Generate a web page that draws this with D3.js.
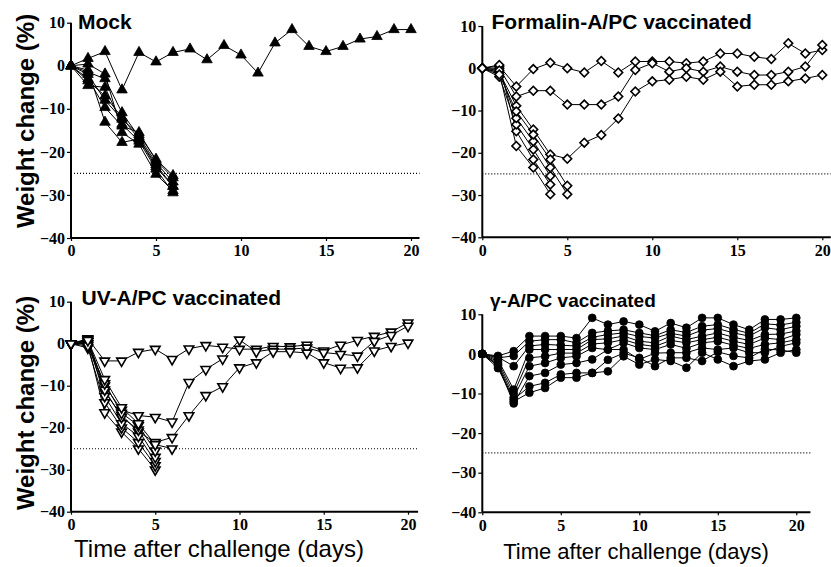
<!DOCTYPE html>
<html><head><meta charset="utf-8">
<script src="https://cdn.jsdelivr.net/npm/d3@7"></script>
<style>body{margin:0;background:#fff}svg{display:block}</style>
</head><body><svg id="c" width="831" height="567"></svg>
<script>
// ---------- DATA ----------
const days = [0,1,2,3,4,5,6,7,8,9,10,11,12,13,14,15,16,17,18,19,20];
const yTicks = [10,0,-10,-20,-30,-40];
const xTicks = [0,5,10,15,20];
const threshold = -25;
const titles = ["Mock","Formalin-A/PC vaccinated","UV-A/PC vaccinated","\u03b3-A/PC vaccinated"];
const yTitle = "Weight change (%)";
const xTitle = "Time after challenge (days)";

// Mock (filled up-triangles)
const mock = [
  [0,1.7,3.3,-5.6,3.1,0.9,3.1,3.9,1.4,4.7,2.5,-1.7,5.3,8.4,4.5,3.3,4.5,6.2,6.8,8.4,8.4],
  [0,-1,-13.1,-17.8,-17,-23,-28],
  [0,-3,-9.7,-14,-15.5,-22,-26],
  [0,-2,-8,-12.4,-16,-21.7,-25.5],
  [0,-4.6,-5,-13.6,-17.5,-24,-29.5],
  [0,-1.5,-3,-10.9,-16.5,-22.5,-27],
  [0,0.4,-1.9,-15.5,-18.2,-25.2,-29],
  [0,-3.5,-7,-12,-17,-23.5,-28]
];
// Formalin-A/PC (open diamonds)
const formalin = [
  [0,0.5,-4.3,-0.2,1.3,0,-1,1.7,-1,1.6,1.6,1.6,1.2,1.6,3.5,3.5,2.7,2.2,5.9,3.5,4.3],
  [0,0,-6.7,-5.3,-5.3,-8.6,-8.6,-8.6,-6.7,-0.4,1.2,-0.8,0,-0.8,0.4,-0.8,-1.6,-1.6,-0.8,0.4,5.5],
  [0,-1,-8.9,-14.5,-20.4,-21.4,-17.6,-15.8,-11.9,-5.5,-3.1,-2.7,-2,-2.7,-0.8,-4.3,-3.9,-3.9,-3.1,-2.4,-1.6],
  [0,-1,-18.4,-23.5,-29.8],
  [0,0.8,-14.9,-21.6,-27.5],
  [0,-2,-13.3,-19.2,-25.5],
  [0,-0.5,-11.8,-17.3,-23.5,-29.8],
  [0,-1.5,-10.2,-15.7,-21.6,-27.8]
];
// UV-A/PC (open down-triangles)
const uv = [
  [0,1.2,-4.1,-4.1,-2,-1.3,-3.7,-1.2,-0.4,-0.8,-1.3,-1.3,-0.6,-0.7,-0.3,-1.7,-0.3,0.8,1.8,2.8,5.0],
  [0,0.5,-10,-15.8,-17.1,-17.5,-18.6,-9.2,-6.1,-3.6,0.9,-1.9,-1.3,-1.3,-1,-2.1,-2.5,-2.9,0.6,2.0,4.2],
  [0,0,-11.5,-17,-21,-23.5,-22.3,-17.1,-12.3,-10.2,-5.7,-4.5,-1.9,-1.9,-2.2,-4.5,-5.8,-5.7,-1.7,-0.6,0.2],
  [0,0,-16.4,-21,-25,-30],
  [0,-1,-14,-20,-23.5,-29],
  [0,0.5,-12.5,-19,-22,-28],
  [0,1,-11,-17.5,-20.5,-27],
  [0,-0.5,-9.5,-16.5,-19.5,-25.5],
  [0,0.8,-8.5,-15.2,-19,-24,-25]
];
// gamma-A/PC (filled circles)
const gamma = [
  [0,-0.5,0.7,4.5,4.5,4.5,4.0,9.1,7.4,8.2,7.4,5.7,7.8,6.6,9.1,9.1,7.4,6.1,8.7,8.7,9.1],
  [0,-1.0,-0.5,3.2,3.6,3.6,2.8,5.3,5.8,6.1,5.3,4.6,6.1,5.4,7.0,7.4,6.2,5.2,7.6,7.3,8.0],
  [0,-0.8,-3.1,2.0,2.4,2.2,2.0,4.2,4.9,5.3,4.4,4.0,5.2,4.5,6.0,6.4,5.3,4.5,6.6,6.1,7.0],
  [0,-1.5,-9.0,1.1,1.1,1.1,1.1,3.6,3.8,4.5,3.2,2.8,4.5,3.6,4.5,5.3,4.2,3.4,4.9,5.0,5.8],
  [0,-2.0,-10.0,-1.0,-0.6,0.2,0.2,2.5,2.8,3.6,2.4,1.9,3.4,2.8,3.6,4.2,3.2,2.4,4.0,3.6,4.9],
  [0,-2.5,-11.0,-3.1,-2.3,-1.0,-0.6,1.5,1.1,2.8,1.5,1.1,2.4,1.4,2.8,3.2,2.2,1.4,2.4,2.8,3.6],
  [0,-3.0,-12.5,-5.6,-4.8,-2.7,-2.3,-1.4,1.1,1.1,-1.4,0.2,0.3,0.3,1.5,1.1,1.5,0.3,0.3,1.9,2.8],
  [0,-3.6,-11.5,-8.2,-7.3,-5.2,-4.8,-4.8,-4.4,-0.6,-2.7,-1.4,-1.8,-3.5,0.3,-1.4,-3.1,-1.8,-1.4,0.3,1.1],
  [0,-2.8,-12.0,-9.8,-8.6,-6.0,-6.0,-4.8,-1.5,0.2,-1.0,-3.1,-1.0,-1.0,-1.8,0.5,-0.5,-1.0,1.2,1.0,0.3]
];

// ---------- LAYOUT ----------
const svg = d3.select("#c");
const panels = [
  {title:titles[0], data:mock,     marker:"up",     x0:71,    ppd:17,    dMax:20.5, yBot:238,   yTop:22.7, tx:78,  ty:29,  ts:21},
  {title:titles[1], data:formalin, marker:"diamond",x0:482.3, ppd:17,    dMax:20.5, yBot:237.3, yTop:26,   tx:491.5,ty:29, ts:21},
  {title:titles[2], data:uv,       marker:"down",   x0:71,    ppd:16.85, dMax:20.6, yBot:511.7, yTop:301.7,tx:81.5,ty:305,ts:21},
  {title:titles[3], data:gamma,    marker:"circle", x0:482.3, ppd:15.7,  dMax:20.9, yBot:512.3, yTop:314.3,tx:490, ty:307,ts:19}
];
const tickFont = "'Liberation Serif', 'Times New Roman', serif";
const sansFont = "'Liberation Sans', Arial, Helvetica, sans-serif";

panels.forEach(p => {
  const x = d3.scaleLinear().domain([0, p.dMax]).range([p.x0, p.x0 + p.ppd*p.dMax]);
  const y = d3.scaleLinear().domain([-40, 10]).range([p.yBot, p.yTop]);
  const g = svg.append("g");

  // threshold dotted line
  g.append("line")
    .attr("x1", x(0)).attr("x2", x(p.dMax))
    .attr("y1", y(threshold)).attr("y2", y(threshold))
    .attr("stroke","#000").attr("stroke-width",1.1).attr("stroke-dasharray","1,2");

  // axes
  const ya = g.append("g").attr("transform",`translate(${x(0)},0)`)
    .call(d3.axisLeft(y).tickValues(yTicks).tickSize(4).tickPadding(2)
      .tickFormat(v => v < 0 ? "\u2212" + Math.abs(v) : v));
  const xa = g.append("g").attr("transform",`translate(0,${y(-40)})`)
    .call(d3.axisBottom(x).tickValues(xTicks).tickSize(3).tickPadding(4));
  [ya, xa].forEach(a => {
    a.select(".domain").attr("stroke","#000").attr("stroke-width",2);
    a.selectAll(".tick line").attr("stroke","#000").attr("stroke-width",1.2);
    a.selectAll("text").attr("font-family",tickFont).attr("font-weight","bold")
      .attr("font-size",16).attr("fill","#000");
  });
  ya.select(".domain").attr("d", `M0,${y(-40)}V${y(10)}`);
  xa.select(".domain").attr("d", `M${x(0)},0H${x(p.dMax)}`);

  // lines
  const line = d3.line().x((v,i) => x(days[i])).y(v => y(v));
  g.selectAll("path.series").data(p.data).join("path")
    .attr("class","series").attr("d", line)
    .attr("fill","none").attr("stroke","#000").attr("stroke-width",1);

  // markers
  const pts = [];
  p.data.forEach(s => s.forEach((v,i) => pts.push({d:days[i], v})));
  let sym, fill, rot = 0, size;
  if (p.marker === "up") { sym = d3.symbolTriangle; fill = "#000"; size = 48; }
  if (p.marker === "down") { sym = d3.symbolTriangle; fill = "#fff"; rot = 180; size = 40; }
  if (p.marker === "diamond") { sym = d3.symbolSquare; fill = "#fff"; rot = 45; size = 38; }
  if (p.marker === "circle") { sym = d3.symbolCircle; fill = "#000"; size = 48; }
  g.selectAll("path.pt").data(pts).join("path")
    .attr("class","pt")
    .attr("d", d3.symbol(sym, size)())
    .attr("transform", d => `translate(${x(d.d)},${y(d.v)}) rotate(${rot})`)
    .attr("fill", fill).attr("stroke","#000")
    .attr("stroke-width", fill === "#fff" ? 1.6 : 0.8);

  // title
  g.append("text").attr("x", p.tx).attr("y", p.ty).text(p.title)
    .attr("font-family", sansFont).attr("font-weight","bold").attr("font-size", p.ts);
});

// y axis titles (left panels)
[[25,121],[25,403]].forEach(([cx,cy]) => {
  svg.append("text").attr("transform",`translate(${cx},${cy}) rotate(-90)`)
    .attr("text-anchor","middle").attr("dominant-baseline","central")
    .attr("font-family", sansFont).attr("font-weight","bold").attr("font-size",24)
    .text(yTitle);
});
// x axis titles (bottom panels)
[[219,557,24],[636,559,22]].forEach(([cx,by,fs]) => {
  svg.append("text").attr("x",cx).attr("y",by).attr("text-anchor","middle")
    .attr("font-family", sansFont).attr("font-size",fs).text(xTitle);
});
</script></body></html>
